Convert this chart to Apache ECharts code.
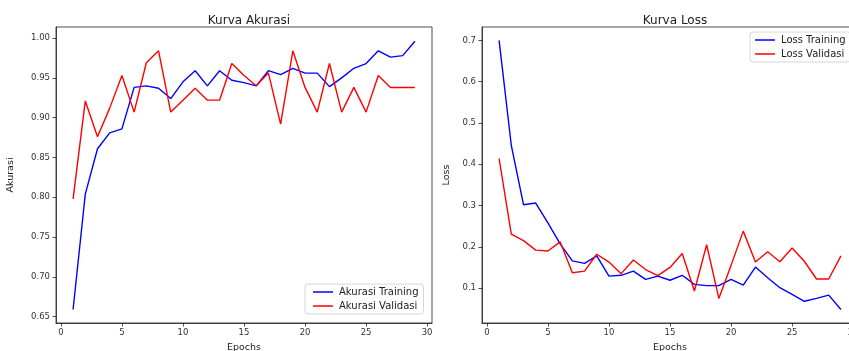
<!DOCTYPE html>
<html>
<head>
<meta charset="utf-8">
<script src="https://cdn.jsdelivr.net/npm/echarts@6/dist/echarts.min.js"></script>
<style>
html,body{margin:0;padding:0;background:#fff;}
#c{width:849px;height:351px;}
</style>
</head>
<body>
<div id="c"></div>
<script>
const epochs = [1,2,3,4,5,6,7,8,9,10,11,12,13,14,15,16,17,18,19,20,21,22,23,24,25,26,27,28,29];
const accTrain = [0.659,0.804,0.861,0.881,0.886,0.938,0.940,0.937,0.924,0.945,0.959,0.940,0.959,0.947,0.944,0.940,0.959,0.954,0.962,0.956,0.956,0.939,0.950,0.962,0.968,0.984,0.976,0.978,0.996];
const accVal = [0.798,0.921,0.876,0.912,0.953,0.907,0.969,0.984,0.907,0.922,0.937,0.922,0.922,0.968,0.953,0.940,0.956,0.892,0.984,0.938,0.907,0.968,0.907,0.938,0.907,0.953,0.938,0.938,0.938];
const lossTrain = [0.700,0.446,0.302,0.306,0.258,0.207,0.166,0.160,0.178,0.129,0.131,0.141,0.121,0.129,0.119,0.131,0.109,0.106,0.106,0.121,0.107,0.151,0.125,0.101,0.085,0.068,0.075,0.083,0.048];
const lossVal = [0.414,0.231,0.215,0.192,0.190,0.212,0.137,0.141,0.182,0.163,0.135,0.168,0.145,0.130,0.150,0.184,0.093,0.205,0.075,0.155,0.238,0.163,0.188,0.164,0.197,0.165,0.122,0.122,0.178];
const xTicks = [0,5,10,15,20,25,30];
const accTicks = [0.65,0.70,0.75,0.80,0.85,0.90,0.95,1.00];
const lossTicks = [0.1,0.2,0.3,0.4,0.5,0.6,0.7];

const pairs = (ys) => epochs.map((e,i)=>[e, ys[i]]);
const FONT = 'DejaVu Sans';
const tickColor = '#333';

function xAxis(gi){
  return {
    type:'value', gridIndex:gi, min:-0.4, max:30.4,
    name:'Epochs', nameLocation:'middle', nameGap:20,
    nameTextStyle:{fontFamily:FONT, fontSize:9.5, color:'#222'},
    axisLine:{show:true, onZero:false, lineStyle:{color:'#222', width:0.8}},
    axisTick:{show:true, length:3.5, customValues:xTicks, lineStyle:{color:'#222', width:0.8}},
    axisLabel:{customValues:xTicks, fontFamily:FONT, fontSize:8.5, color:tickColor, margin:5},
    splitLine:{show:false}
  };
}
function yAxis(gi, min, max, ticks, name, dec, gap){
  return {
    type:'value', gridIndex:gi, min:min, max:max,
    name:name, nameLocation:'middle', nameGap:gap,
    nameTextStyle:{fontFamily:FONT, fontSize:9.5, color:'#222'},
    axisLine:{show:true, onZero:false, lineStyle:{color:'#222', width:0.8}},
    axisTick:{show:true, length:3.5, customValues:ticks, lineStyle:{color:'#222', width:0.8}},
    axisLabel:{customValues:ticks, fontFamily:FONT, fontSize:8.5, color:tickColor, margin:6,
      formatter:(v)=>v.toFixed(dec)},
    splitLine:{show:false}
  };
}
function line(name, gi, ys, color){
  return {
    name:name, type:'line', xAxisIndex:gi, yAxisIndex:gi,
    data:pairs(ys), showSymbol:false, symbol:'none',
    lineStyle:{color:color, width:1.4}, itemStyle:{color:color},
    animation:false
  };
}
const legendBase = {
  orient:'vertical', icon:'rect', itemWidth:20, itemHeight:1.5, itemGap:4,
  textStyle:{fontFamily:FONT, fontSize:10, color:'#222', padding:[0,0,0,1]},
  backgroundColor:'rgba(255,255,255,0.8)', borderColor:'#ccc', borderWidth:0.8, borderRadius:3
};
const chart = echarts.init(document.getElementById('c'), null, {renderer:'canvas'});
chart.setOption({
  animation:false,
  backgroundColor:'#fff',
  title:[
    {text:'Kurva Akurasi', left:244, top:10, textAlign:'center',
     textStyle:{fontFamily:FONT, fontSize:12, fontWeight:'normal', color:'#222'}},
    {text:'Kurva Loss', left:670, top:10, textAlign:'center',
     textStyle:{fontFamily:FONT, fontSize:12, fontWeight:'normal', color:'#222'}}
  ],
  grid:[
    {left:56, top:27, width:376, height:296, show:true, borderColor:'#222', borderWidth:0.8, backgroundColor:'transparent', containLabel:false, outerBoundsMode:'none'},
    {left:482, top:27, width:376, height:296, show:true, borderColor:'#222', borderWidth:0.8, backgroundColor:'transparent', containLabel:false, outerBoundsMode:'none'}
  ],
  xAxis:[xAxis(0), xAxis(1)],
  yAxis:[
    yAxis(0, 0.6421, 1.0139, accTicks, 'Akurasi', 2, 40),
    yAxis(1, 0.0154, 0.7326, lossTicks, 'Loss', 1, 30)
  ],
  legend:[
    Object.assign({}, legendBase, {data:['Akurasi Training','Akurasi Validasi'], left:305, top:284, padding:[3,5,3,8]}),
    Object.assign({}, legendBase, {data:['Loss Training','Loss Validasi'], left:750, top:32, padding:[3,5,3,5]})
  ],
  series:[
    line('Akurasi Training', 0, accTrain, '#0000ff'),
    line('Akurasi Validasi', 0, accVal, '#ff0000'),
    line('Loss Training', 1, lossTrain, '#0000ff'),
    line('Loss Validasi', 1, lossVal, '#ff0000')
  ]
});
</script>
</body>
</html>
